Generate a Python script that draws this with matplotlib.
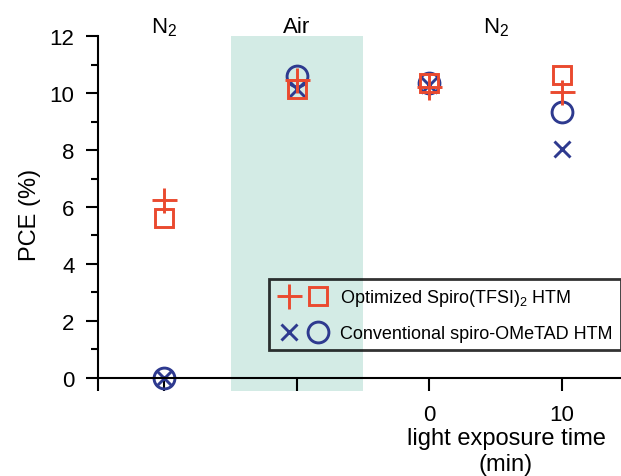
import matplotlib
matplotlib.use('Agg')
from matplotlib import pyplot as plt
from matplotlib.legend_handler import HandlerTuple
from matplotlib.lines import Line2D

plt.rcParams['font.family'] = ['Liberation Sans', 'DejaVu Sans']
plt.rcParams['mathtext.fontset'] = 'custom'
plt.rcParams['mathtext.rm'] = 'Liberation Sans'

RED = '#ea4a2f'
BLUE = '#2e3a8f'
SHADE = '#d3ebe5'

# x positions: N2, Air, 0 min, 10 min
positions = [-2, -1, 0, 1]
tick_labels = ['', '', '', '0', '10']
tick_pos = [-2.5, -2, -1, 0, 1]

opt_plus = [6.25, 10.45, 10.2, 10.05]
opt_square = [5.6, 10.15, 10.35, 10.65]
conv_x = [0.0, 10.15, 10.3, 8.05]
conv_circle = [0.0, 10.6, 10.35, 9.35]

env_labels = ['N$_2$', 'Air', 'N$_2$']
env_pos = [-2, -1, 0.5]

fig = plt.figure(figsize=(6.21, 4.77), dpi=100)
ax = fig.add_axes([0.158, 0.176, 0.842, 0.746])
ax.set_xlim(-2.5, 1.445)
ax.set_ylim(-0.5, 12)

ax.fill_between([-1.5, -0.5], -0.47, 12, color=SHADE, lw=0, zorder=0)

lw = 2.1
ax.plot(positions, opt_square, ls='none', marker='s', ms=13.5, mfc='none', mec=RED, mew=lw, zorder=3)
ax.plot(positions, opt_plus, ls='none', marker='+', ms=18, mec=RED, mew=lw, zorder=4)
ax.plot(positions, conv_circle, ls='none', marker='o', ms=15, mfc='none', mec=BLUE, mew=lw, zorder=2)
ax.plot(positions, conv_x, ls='none', marker='x', ms=12, mec=BLUE, mew=lw, zorder=2)

for sp in ['top', 'right']:
    ax.spines[sp].set_visible(False)
ax.spines['bottom'].set_position(('data', 0))
ax.spines['left'].set_bounds(0, 12)
ax.spines['left'].set_linewidth(1.5)
ax.spines['bottom'].set_linewidth(1.5)

ax.set_yticks(range(0, 13, 2))
ax.set_yticks(range(1, 12, 2), minor=True)
ax.set_xticks(tick_pos)
ax.set_xticklabels(tick_labels)
ax.tick_params(axis='both', which='major', direction='out', length=9, width=1.5, labelsize=16)
ax.tick_params(axis='y', which='minor', direction='out', length=5, width=1.5)
ax.tick_params(axis='y', pad=8)
ax.tick_params(axis='x', pad=10)

ax.set_ylabel('PCE (%)', fontsize=17, labelpad=6)
fig.text(506 / 621, 1 - 428 / 477, 'light exposure time\n(min)', fontsize=17,
         ha='center', va='top', linespacing=1.25)

for p, t in zip(env_pos, env_labels):
    ax.text(p, 12.15, t, fontsize=16, ha='center', va='baseline')

h1 = (Line2D([], [], ls='none', marker='+', ms=18, mec=RED, mew=lw),
      Line2D([], [], ls='none', marker='s', ms=13.5, mfc='none', mec=RED, mew=lw))
h2 = (Line2D([], [], ls='none', marker='x', ms=12, mec=BLUE, mew=lw),
      Line2D([], [], ls='none', marker='o', ms=15, mfc='none', mec=BLUE, mew=lw))
leg = fig.legend([h1, h2], ['Optimized Spiro(TFSI)$_2$ HTM', 'Conventional spiro-OMeTAD HTM'],
                 handler_map={tuple: HandlerTuple(ndivide=None, pad=0.35)},
                 loc='upper left', bbox_to_anchor=(269 / 621, 1 - 280 / 477),
                 fontsize=13, frameon=True, fancybox=False, handlelength=2.9,
                 borderpad=0.45, labelspacing=0.95, handletextpad=0.6, borderaxespad=0)
leg.get_frame().set_facecolor('none')
leg.get_frame().set_edgecolor('black')
leg.get_frame().set_linewidth(2.0)

fig.savefig('out.png', dpi=100)
